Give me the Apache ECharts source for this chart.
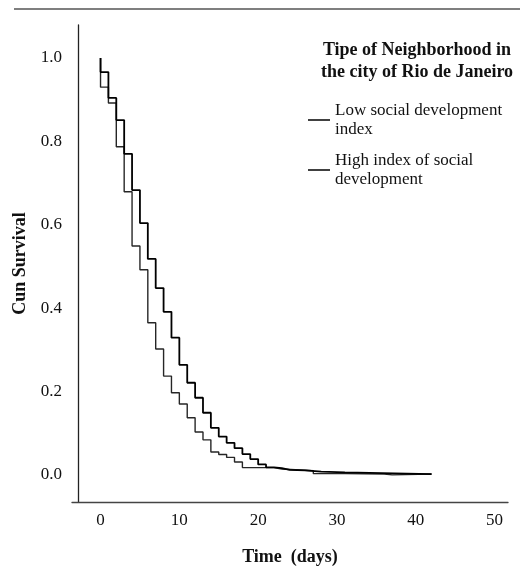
<!DOCTYPE html>
<html><head><meta charset="utf-8">
<script src="https://cdn.jsdelivr.net/npm/echarts@6/dist/echarts.min.js"></script>
<style>html,body{margin:0;padding:0;background:#fff}#c{width:520px;height:583px}</style>
</head><body><div id="c"></div>
<script>
// Kaplan-Meier step data: survival value holds from time[i] until time[i+1]
const lowDevTimes = [0,0,1,2,3,4,5,6,7,8,9,10,11,12,13,14,15,16,17,18,19,20,21,22,23,24,26,28,31,42];
const lowDevSurv  = [1.0,0.966,0.904,0.851,0.770,0.683,0.604,0.518,0.448,0.391,0.329,0.264,0.221,0.185,0.149,0.113,0.092,0.077,0.064,0.050,0.038,0.025,0.018,0.016,0.012,0.011,0.008,0.006,0.002,0.002];
const highDevTimes = [0,0,1,2,3,4,5,6,7,8,9,10,11,12,13,14,15,16,17,18,22,23,27,31,36,37,42];
const highDevSurv  = [1.0,0.930,0.892,0.787,0.679,0.549,0.492,0.365,0.302,0.237,0.197,0.170,0.137,0.103,0.084,0.055,0.049,0.042,0.031,0.0175,0.014,0.010,0.003,0.002,0.0,0.002,0.002];
const xTickValues = [0,10,20,30,40,50];
const yTickValues = [0,0.2,0.4,0.6,0.8,1.0];
const seriesNames = ['Low social development index','High index of social development'];
const legendLabels = {'Low social development index':'Low social development\nindex','High index of social development':'High index of social\ndevelopment'};

const pairs = (t, v) => t.map((x, i) => [x, v[i]]);
const FONT = '"Liberation Serif", "DejaVu Serif", serif';

const chart = echarts.init(document.getElementById('c'));
chart.setOption({
  animation: false,
  backgroundColor: '#fff',
  textStyle: {fontFamily: FONT},
  graphic: [{type: 'line', shape: {x1: 14, y1: 9, x2: 520, y2: 9}, style: {stroke: '#555', lineWidth: 1.5}}],
  title: {
    text: 'Tipe of Neighborhood in\nthe city of Rio de Janeiro',
    left: 412, top: 34, textAlign: 'center',
    textStyle: {fontFamily: FONT, fontWeight: 'bold', fontSize: 18, lineHeight: 22, color: '#111'}
  },
  legend: {
    orient: 'vertical', left: 303, top: 96, itemGap: 12,
    icon: 'rect', itemWidth: 22, itemHeight: 1.6,
    itemStyle: {color: '#111', borderWidth: 0},
    data: seriesNames,
    formatter: n => legendLabels[n],
    textStyle: {fontFamily: FONT, fontSize: 17, lineHeight: 19, color: '#111'},
    selectedMode: false
  },
  grid: {left: 72, right: 12, top: 25, bottom: 81, containLabel: false, outerBoundsMode: 'none'},
  xAxis: [{
    type: 'value', min: -3.62, max: 51.7,
    axisLine: {onZero: false, lineStyle: {color: '#444', width: 1.3}},
    axisTick: {show: false},
    splitLine: {show: false},
    axisLabel: {customValues: xTickValues, margin: 10, fontSize: 17, color: '#111', fontFamily: FONT},
    name: 'Time  (days)', nameLocation: 'middle', nameGap: 46,
    nameTextStyle: {fontFamily: FONT, fontWeight: 'bold', fontSize: 18, color: '#111'}
  }, {
    type: 'value', min: -1, max: 71.67, show: false
  }],
  yAxis: {
    type: 'value', min: -0.065, max: 1.079,
    axisLine: {show: true, onZero: true, onZeroAxisIndex: 1, lineStyle: {color: '#222', width: 1.3}},
    axisTick: {show: false},
    splitLine: {show: false},
    axisLabel: {customValues: yTickValues, formatter: v => v.toFixed(1), margin: 10, fontSize: 17, color: '#111', fontFamily: FONT},
    name: 'Cun Survival', nameLocation: 'middle', nameGap: 43, nameRotate: 90,
    nameTextStyle: {fontFamily: FONT, fontWeight: 'bold', fontSize: 18, color: '#111'}
  },
  series: [{
    name: seriesNames[0], type: 'line', step: 'end', xAxisIndex: 0,
    data: pairs(lowDevTimes, lowDevSurv), showSymbol: false, symbol: 'none',
    lineStyle: {color: '#000', width: 1.8}, itemStyle: {color: '#000'}, z: 3
  }, {
    name: seriesNames[1], type: 'line', step: 'end', xAxisIndex: 0,
    data: pairs(highDevTimes, highDevSurv), showSymbol: false, symbol: 'none',
    lineStyle: {color: '#262626', width: 1.4}, itemStyle: {color: '#000'}, z: 2
  }]
});
</script></body></html>
